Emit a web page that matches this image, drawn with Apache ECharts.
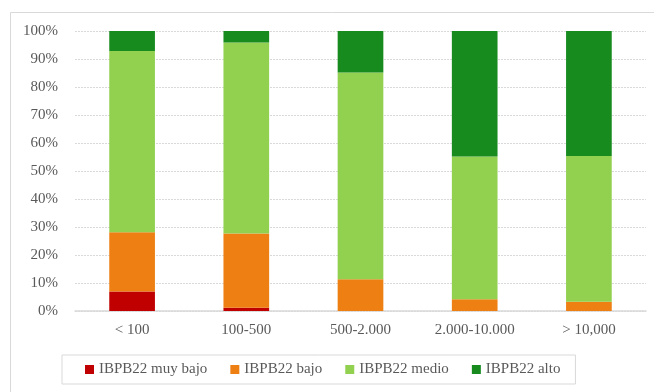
<!DOCTYPE html>
<html>
<head>
<meta charset="utf-8">
<script src="https://cdn.jsdelivr.net/npm/echarts@6/dist/echarts.min.js"></script>
<style>
  html, body { margin: 0; padding: 0; background: #ffffff; }
  #chart { width: 654px; height: 392px; }
</style>
</head>
<body>
<div id="chart"></div>
<script>
// Population brackets (municipality size)
const categories = ['< 100', '100-500', '500-2.000', '2.000-10.000', '> 10,000'];

// Share of municipalities in each IBPB22 level, per bracket (%)
const muyBajo = [7.0, 1.2, 0, 0, 0];
const bajo    = [21.1, 26.5, 11.3, 4.2, 3.3];
const medio   = [64.8, 68.2, 73.9, 51.0, 52.1];
const alto    = [7.1, 4.1, 14.8, 44.8, 44.6];

const seriesNames = ['IBPB22 muy bajo', 'IBPB22 bajo', 'IBPB22 medio', 'IBPB22 alto'];
const seriesColors = ['#C00000', '#EE7F12', '#92D050', '#188B1F'];
const seriesData = [muyBajo, bajo, medio, alto];

const FONT = '"Liberation Serif", "DejaVu Serif", serif';

const chart = echarts.init(document.getElementById('chart'), null, { renderer: 'canvas' });

chart.setOption({
  animation: false,
  backgroundColor: '#ffffff',
  graphic: [{
    type: 'rect',
    shape: { x: 10.5, y: 12.5, width: 700, height: 420 },
    style: { fill: 'none', stroke: '#d9d9d9', lineWidth: 1 },
    silent: true,
    z: -1
  }],
  grid: { left: 75, right: 8, top: 31, bottom: 81, containLabel: false },
  legend: {
    data: seriesNames,
    left: 62,
    top: 355,
    padding: [7, 15, 7, 23],
    borderColor: '#d9d9d9',
    borderWidth: 1,
    itemWidth: 9,
    itemHeight: 9,
    itemGap: 23,
    icon: 'rect',
    textStyle: { fontFamily: FONT, fontSize: 15, color: '#595959' }
  },
  xAxis: {
    type: 'category',
    data: categories,
    axisLine: { lineStyle: { color: '#d9d9d9', width: 1.5 } },
    axisTick: { show: false },
    axisLabel: { fontFamily: FONT, fontSize: 15, color: '#595959', margin: 12 }
  },
  yAxis: {
    type: 'value',
    min: 0,
    max: 100,
    interval: 10,
    axisLine: { show: false },
    axisTick: { show: false },
    axisLabel: { formatter: '{value}%', fontFamily: FONT, fontSize: 15, color: '#595959', margin: 17 },
    splitLine: { lineStyle: { color: '#d9d9d9', type: [2, 1], width: 1 } }
  },
  series: seriesNames.map((name, i) => ({
    name: name,
    type: 'bar',
    stack: 'total',
    barWidth: '40%',
    data: seriesData[i],
    itemStyle: { color: seriesColors[i] }
  }))
});
</script>
</body>
</html>
